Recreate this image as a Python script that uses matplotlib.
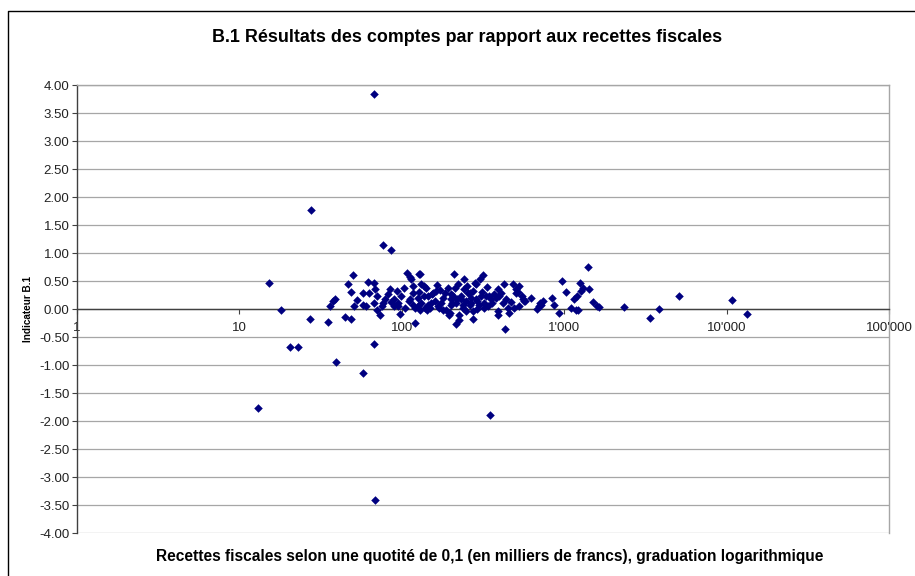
import matplotlib

matplotlib.use("Agg")
matplotlib.rcParams["font.family"] = ["Liberation Sans", "DejaVu Sans"]

import matplotlib.pyplot as plt
from matplotlib.lines import Line2D
from matplotlib.ticker import FixedLocator, FuncFormatter, NullLocator, MultipleLocator


TITLE = "B.1 Résultats des comptes par rapport aux recettes fiscales"
X_LABEL = "Recettes fiscales selon une quotité de 0,1 (en milliers de francs), graduation logarithmique"
Y_LABEL = "Indicateur B.1"

# recettes fiscales (milliers de francs)
recettes = [
    67, 27.5, 77, 86, 15.2, 18.1, 20.4, 22.8, 27.2, 34.9,
    39.6, 58, 67.8, 13.0, 68, 348, 433, 121, 216, 276,
    36, 37.6, 39, 45, 48.8, 46.6, 50, 48.4, 50.5, 52.8,
    57.4, 58, 60.3, 61.6, 62.6, 67.4, 68.4, 67.5, 70, 70.5,
    73.5, 75.9, 77, 79, 81.9, 84.5, 89.2, 89, 93, 95.3,
    97.6, 99.5, 103.8, 108, 112, 114, 110.5, 112, 117.5, 117.5,
    120, 125, 128, 130, 128, 132, 132, 137, 139, 137,
    141, 143, 130, 146, 150, 154, 152, 156, 163, 167,
    171, 170, 175, 187, 192, 195, 197, 200, 200, 205,
    205, 210, 215, 222, 225, 232, 232, 237, 243, 243,
    247, 253, 262, 262, 268, 275, 275, 281, 286, 292,
    302, 300, 307, 314, 322, 335, 345, 355, 360, 372,
    390, 390, 390, 398, 418, 427, 438, 450, 459, 481,
    504, 504, 517, 529, 529, 546, 557, 568, 577, 623,
    680, 700, 720, 738, 710, 845, 870, 925, 965, 1030,
    1100, 1150, 1190, 1210, 1200, 1250, 1270, 1300, 1400, 1420,
    1500, 1585, 1640, 2340, 3360, 3830, 5090, 10800, 13300,
    207, 220, 237, 255, 285, 330, 310, 225, 214, 200,
    180, 160, 185, 265, 290, 320, 340, 380, 410, 470,
    490, 104, 95, 86, 118, 125, 145, 165, 180, 250,
]

# indicateur B.1
indicateur = [
    3.84, 1.76, 1.14, 1.05, 0.47, -0.02, -0.68, -0.67, -0.18, -0.23,
    -0.94, -1.14, -0.62, -1.77, -3.41, -1.90, -0.35, -0.25, -0.26, -0.17,
    0.06, 0.14, 0.18, -0.14, -0.17, 0.44, 0.60, 0.31, 0.05, 0.16,
    0.08, 0.28, 0.06, 0.49, 0.29, 0.47, 0.35, 0.10, 0.24, -0.02,
    -0.10, 0.05, 0.11, 0.17, 0.26, 0.35, 0.06, 0.17, 0.32, 0.05,
    -0.09, 0.23, 0.38, 0.65, 0.58, 0.53, 0.14, 0.17, 0.41, 0.29,
    0.02, 0.05, 0.62, 0.63, 0.30, 0.11, 0.44, 0.23, 0.02, 0.41,
    0.38, -0.01, -0.01, 0.23, 0.02, 0.26, 0.11, 0.29, 0.32, 0.05,
    0.34, 0.02, 0.11, -0.01, 0.38, -0.10, -0.07, 0.17, 0.26, 0.11,
    0.20, 0.62, 0.11, 0.44, -0.20, 0.23, 0.17, 0.02, 0.35, 0.53,
    -0.04, 0.41, 0.08, 0.29, 0.11, 0.32, -0.04, 0.47, 0.44, 0.14,
    0.53, 0.08, 0.23, 0.61, 0.11, 0.40, 0.23, 0.17, 0.11, 0.26,
    0.35, -0.10, -0.04, 0.23, 0.11, 0.44, 0.17, 0.02, -0.07, 0.45,
    0.35, 0.29, 0.30, 0.41, 0.05, 0.24, 0.17, 0.14, 0.14, 0.20,
    0.00, 0.05, 0.08, 0.14, 0.11, 0.20, 0.07, -0.08, 0.50, 0.30,
    0.02, 0.17, -0.01, -0.02, 0.24, 0.47, 0.32, 0.38, 0.75, 0.36,
    0.13, 0.05, 0.04, 0.03, -0.16, 0.00, 0.24, 0.16, -0.09,
    0.24, 0.17, 0.08, 0.29, 0.17, 0.24, 0.31, -0.10, 0.38, 0.08,
    0.20, 0.15, 0.28, 0.20, 0.00, 0.02, 0.05, 0.20, 0.28, 0.12,
    0.02, 0.02, 0.11, 0.12, 0.08, 0.20, 0.08, 0.42, -0.02, 0.15,
]

X_TICKS = [1, 10, 100, 1000, 10000, 100000]


def fmt_thousands(v, _pos):
    return f"{int(round(v)):,}".replace(",", "'")


fig = plt.figure(figsize=(9.15, 5.76), dpi=100)
ax = fig.add_axes([77 / 915, 1 - 533 / 576, (889 - 77) / 915, (533 - 85) / 576])

ax.scatter(recettes, indicateur, marker="D", s=19, color="#000080",
           linewidths=0, zorder=3)

ax.set_xscale("log")
ax.set_xlim(1, 100000)
ax.set_ylim(-4, 4)
ax.xaxis.set_major_locator(FixedLocator(X_TICKS))
ax.xaxis.set_minor_locator(NullLocator())
ax.xaxis.set_major_formatter(FuncFormatter(fmt_thousands))
ax.yaxis.set_major_locator(MultipleLocator(0.5))
ax.yaxis.set_major_formatter(FuncFormatter(lambda v, p: f"{v:.2f}"))

ax.grid(axis="y", color="#a6a6a6", linewidth=0.9)
ax.set_axisbelow(True)

ax.spines["bottom"].set_position(("data", 0))
ax.spines["bottom"].set_color("#404040")
ax.spines["left"].set_color("#404040")
ax.spines["top"].set_color("#a6a6a6")
ax.spines["right"].set_color("#a6a6a6")
for s in ax.spines.values():
    s.set_linewidth(1.0)

ax.tick_params(axis="x", direction="out", length=3.5, pad=6, labelsize=9.5,
               color="#404040", labelcolor="#222222")
ax.tick_params(axis="y", direction="out", length=3.5, pad=2, labelsize=9.5,
               color="#404040", labelcolor="#222222")

fig.text(467 / 915, 1 - 38 / 576, TITLE, ha="center", va="center",
         fontsize=12.9, fontweight="bold")
fig.text(490 / 915, 1 - 557 / 576, X_LABEL, ha="center", va="center",
         fontsize=11.2, fontweight="bold")
fig.text(28 / 915, 1 - 309.5 / 576, Y_LABEL, ha="center", va="center",
         rotation=90, fontsize=7.2, fontweight="bold")

# chart area border (only top and left are visible in the frame)
fig.add_artist(Line2D([8 / 915, 8 / 915, 1.0], [0.0, 1 - 11 / 576, 1 - 11 / 576],
                      transform=fig.transFigure, color="black", linewidth=1.0))

fig.savefig("out.png", dpi=100)
plt.close(fig)
